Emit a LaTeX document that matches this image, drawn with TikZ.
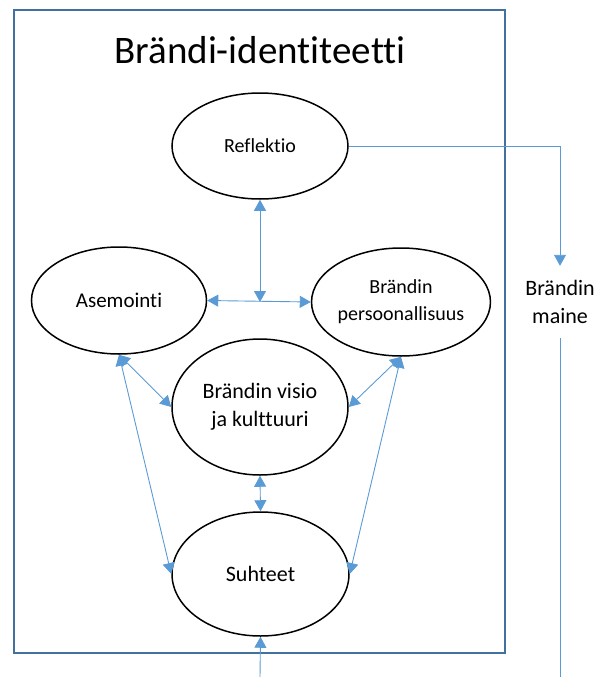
\documentclass[tikz,border=0pt]{standalone}
\usepackage{fontspec}
\setmainfont[RawFeature={-liga;-clig;-calt;-dlig}]{Carlito}
\usetikzlibrary{shapes.geometric,arrows.meta}
\definecolor{boxblue}{HTML}{41719C}
\definecolor{arrblue}{HTML}{5B9BD5}
\begin{document}
\begin{tikzpicture}[x=1pt,y=-1pt,
  oval/.style={ellipse,draw=black,line width=1.5pt,inner sep=0pt,align=center,
    font=\fontsize{21}{27}\selectfont},
  conn/.style={draw=arrblue,line width=0.9pt},
  biarrow/.style={conn,{Triangle[width=12pt,length=11pt]}-{Triangle[width=12pt,length=11pt]}},
  onearrow/.style={conn,-{Triangle[width=12pt,length=11pt]}}]
\useasboundingbox (0,0) rectangle (610,677);
\draw[draw=boxblue,line width=1.5pt] (14,10) rectangle (505,653);
\node (title) at (260,50) {\fontsize{39}{45}\selectfont Brändi-identiteetti};
\node[oval,minimum width=176pt,minimum height=106pt,font=\fontsize{20}{26}\selectfont] (refl) at (260,146) {Reflektio};
\node[oval,minimum width=175pt,minimum height=107pt] (asem) at (119,300.5) {Asemointi};
\node[oval,minimum width=174pt,minimum height=108pt,font=\fontsize{20}{27}\selectfont] (pers) at (401,302) {Brändin\\persoonallisuus};
\node[oval,minimum width=176pt,minimum height=136pt,font=\fontsize{22}{28}\selectfont] (visio) at (260,407) {Brändin visio\\ja kulttuuri};
\node[oval,minimum width=177pt,minimum height=124pt,font=\fontsize{22}{28}\selectfont] (suht) at (260.5,574) {Suhteet};
\node[inner sep=0pt,minimum height=72pt,align=center,font=\fontsize{22}{28}\selectfont] (maine) at (560,302) {Brändin\\maine};
\coordinate (jn) at (260,302);
\coordinate (corner) at (560,146);
\coordinate (bot1) at (260,677);
\coordinate (bot2) at (560,677);
\draw[biarrow] (refl.south) -- (jn);
\draw[biarrow] (asem.east) -- (pers.west);
\draw[biarrow] (asem.south) -- (visio.west);
\draw[biarrow] (asem.south) -- (suht.west);
\draw[biarrow] (pers.south) -- (visio.east);
\draw[biarrow] (pers.south) -- (suht.east);
\draw[biarrow] (visio.south) -- (suht.north);
\draw[onearrow] (bot1) -- (suht.south);
\draw[onearrow] (refl.east) -- (corner) -- (maine.north);
\draw[conn] (maine.south) -- (bot2);
\end{tikzpicture}
\end{document}
